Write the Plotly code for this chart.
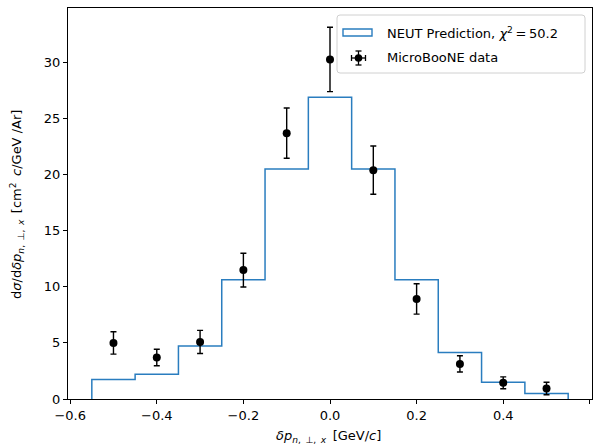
import plotly.graph_objects as go

# ---------------- data ----------------
bin_edges = [-0.55, -0.45, -0.35, -0.25, -0.15, -0.05, 0.05, 0.15, 0.25, 0.35, 0.45, 0.55]
neut_pred = [1.74, 2.21, 4.73, 10.64, 20.5, 26.9, 20.5, 10.64, 4.14, 1.50, 0.50]

data_x = [-0.5, -0.4, -0.3, -0.2, -0.1, 0.0, 0.1, 0.2, 0.3, 0.4, 0.5]
data_y = [5.0, 3.70, 5.09, 11.49, 23.7, 30.27, 20.4, 8.92, 3.13, 1.44, 0.94]
data_err = [1.0, 0.74, 1.03, 1.5, 2.24, 2.87, 2.15, 1.35, 0.72, 0.53, 0.56]

x_ticks = [-0.6, -0.4, -0.2, 0.0, 0.2, 0.4, 0.6]
y_ticks = [0, 5, 10, 15, 20, 25, 30]

pred_label = "NEUT Prediction, <i>χ</i><sup>2</sup>\u2009=\u200950.2"
data_label = "MicroBooNE data"
sub_txt = "<sub><i>n</i>,\u2002⊥,\u2002<i>x</i></sub>"
x_title = "<i>δp</i>" + sub_txt + "\u2002[GeV/<i>c</i>]"
y_title = "d<i>σ</i>/d<i>δp</i>" + sub_txt + "\u2002[cm<sup>2</sup>\u2002<i>c</i>/GeV /Ar]"

# ---------------- layout geometry (pixels) ----------------
W, H = 600, 446
ML, MR, MT, MB = 68, 8, 8, 47
PW, PH = W - ML - MR, H - MT - MB

def px(x):
    return (x - ML) / PW

def py(y):
    return (H - MB - y) / PH

BLUE = "#2a7dbf"
FONT = "DejaVu Sans"

# step histogram points
step_x = [bin_edges[0]] + list(bin_edges)
step_y = [0] + list(neut_pred) + [0]

fig = go.Figure()
fig.add_trace(go.Scatter(
    x=step_x, y=step_y, mode="lines", line=dict(color=BLUE, width=1.5, shape="hv"),
    showlegend=False, hoverinfo="skip"))
fig.add_trace(go.Scatter(
    x=data_x, y=data_y, mode="markers",
    marker=dict(color="black", size=8),
    error_y=dict(type="data", array=data_err, color="black", thickness=1.4, width=3),
    showlegend=False))

shapes = []
annotations = []

# legend box (rounded)
bx0, bx1, by0, by1, r = 337, 585, 15, 73, 3
path = (f"M {px(bx0+r)} {py(by0)} L {px(bx1-r)} {py(by0)} "
        f"Q {px(bx1)} {py(by0)} {px(bx1)} {py(by0+r)} "
        f"L {px(bx1)} {py(by1-r)} Q {px(bx1)} {py(by1)} {px(bx1-r)} {py(by1)} "
        f"L {px(bx0+r)} {py(by1)} Q {px(bx0)} {py(by1)} {px(bx0)} {py(by1-r)} "
        f"L {px(bx0)} {py(by0+r)} Q {px(bx0)} {py(by0)} {px(bx0+r)} {py(by0)} Z")
shapes.append(dict(type="path", xref="paper", yref="paper", path=path,
                   line=dict(color="#d0d0d0", width=1), fillcolor="rgba(255,255,255,0.8)",
                   layer="above"))
# histogram icon
shapes.append(dict(type="rect", xref="paper", yref="paper",
                   x0=px(343), x1=px(372), y0=py(29), y1=py(36),
                   line=dict(color=BLUE, width=1.4), fillcolor="rgba(0,0,0,0)", layer="above"))
# data icon: errorbars + marker
cx, cy = 358.5, 58
lw = 1.3
shapes += [
    dict(type="line", xref="paper", yref="paper", x0=px(cx), x1=px(cx), y0=py(cy-7), y1=py(cy+7),
         line=dict(color="black", width=lw), layer="above"),
    dict(type="line", xref="paper", yref="paper", x0=px(cx-7), x1=px(cx+7), y0=py(cy), y1=py(cy),
         line=dict(color="black", width=lw), layer="above"),
    dict(type="line", xref="paper", yref="paper", x0=px(cx-3), x1=px(cx+3), y0=py(cy-7), y1=py(cy-7),
         line=dict(color="black", width=lw), layer="above"),
    dict(type="line", xref="paper", yref="paper", x0=px(cx-3), x1=px(cx+3), y0=py(cy+7), y1=py(cy+7),
         line=dict(color="black", width=lw), layer="above"),
    dict(type="line", xref="paper", yref="paper", x0=px(cx-7), x1=px(cx-7), y0=py(cy-3), y1=py(cy+3),
         line=dict(color="black", width=lw), layer="above"),
    dict(type="line", xref="paper", yref="paper", x0=px(cx+7), x1=px(cx+7), y0=py(cy-3), y1=py(cy+3),
         line=dict(color="black", width=lw), layer="above"),
    dict(type="circle", xref="paper", yref="paper", x0=px(cx-3.8), x1=px(cx+3.8),
         y0=py(cy-3.8), y1=py(cy+3.8), fillcolor="black", line=dict(color="black", width=0),
         layer="above"),
]

annotations += [
    dict(text=pred_label, xref="paper", yref="paper", x=px(385), y=py(32.5),
         xanchor="left", yanchor="middle", showarrow=False, font=dict(family=FONT, size=13, color="black")),
    dict(text=data_label, xref="paper", yref="paper", x=px(385), y=py(58),
         xanchor="left", yanchor="middle", showarrow=False, font=dict(family=FONT, size=13, color="black")),
    dict(text=x_title, xref="paper", yref="paper",
         x=px(328), y=py(436), xanchor="center", yanchor="middle", showarrow=False,
         font=dict(family=FONT, size=13, color="black")),
    dict(text=y_title, xref="paper", yref="paper", x=px(17), y=py(205), xanchor="center", yanchor="middle",
         textangle=-90, showarrow=False, font=dict(family=FONT, size=13, color="black")),
]

axis_common = dict(showgrid=False, zeroline=False, showline=True, mirror=True, linecolor="black",
                   linewidth=1, ticks="outside", ticklen=4, tickwidth=1, tickcolor="black",
                   tickfont=dict(family=FONT, size=13, color="black"))

fig.update_layout(
    width=W, height=H, margin=dict(l=ML, r=MR, t=MT, b=MB),
    paper_bgcolor="white", plot_bgcolor="white",
    xaxis=dict(range=[-0.605, 0.605], tickvals=x_ticks, tickformat=".1f", **axis_common),
    yaxis=dict(range=[0, 34.86], tickvals=y_ticks, **axis_common),
    shapes=shapes, annotations=annotations, showlegend=False,
)

fig.write_html(
    "out.html",
    config={"displayModeBar": False},
    post_script="document.body.style.margin='0';document.body.style.overflow='hidden';",
)
